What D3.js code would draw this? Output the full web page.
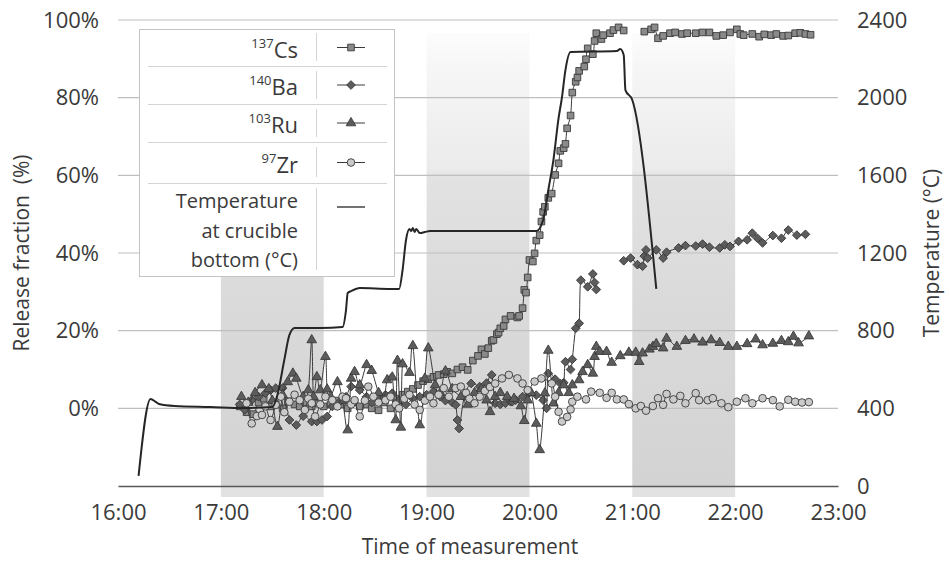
<!DOCTYPE html>
<html>
<head>
<meta charset="utf-8">
<script src="https://cdn.jsdelivr.net/npm/d3@7"></script>
<style>
  body { margin: 0; background: #fff; }
  text { font-family: "Open Sans", sans-serif; fill: #3a3a3a; }
</style>
</head>
<body>
<div id="chart"></div>
<script>
// values: [time, value]
const timeTicks = ["16:00","17:00","18:00","19:00","20:00","21:00","22:00","23:00"];
const leftTicks = [0, 20, 40, 60, 80, 100];
const rightTicks = [0, 400, 800, 1200, 1600, 2000, 2400];
const shadedHours = [["17:00","18:00"], ["19:00","20:00"], ["21:00","22:00"]];

const tempData = [["16:12",52],["16:19",448],["16:22",433],["16:24",422],["16:33",412],["16:54",407],
  ["17:13",402],["17:30",407],["17:33",469],["17:37",649],["17:40",778],["17:43",814],["17:58",814],
  ["18:11",819],["18:13",906],["18:14",994],["18:16",1004],["18:21",1020],["18:39",1015],["18:44",1015],
  ["18:46",1112],["18:48",1267],["18:50",1324],["18:51",1313],["18:52",1329],["18:53",1308],["18:54",1324],
  ["18:56",1303],["18:59",1308],["19:02",1313],["20:04",1313],["20:08",1370],["20:11",1524],["20:14",1679],
  ["20:17",1895],["20:19",2003],["20:21",2142],["20:24",2235],["20:51",2240],["20:53",2251],["20:55",2220],
  ["20:56",2039],["21:00",1988],["21:14",1015]];

const csData = [["17:11",0.5],["17:15",-1.0],["17:19",-1.5],["17:22",1.5],["17:25",2.5],["17:29",0.5],
  ["17:32",1.0],["17:36",0.0],["17:39",1.8],["17:43",1.0],["17:46",0.5],["17:50",1.5],["17:53",0.5],
  ["17:57",1.2],["18:00",0.5],["18:04",1.0],["18:07",2.0],["18:11",1.0],["18:14",0.0],["18:18",1.5],
  ["18:21",0.5],["18:25",1.0],["18:28",0.0],["18:32",-0.5],["18:35",1.5],["18:39",0.0],["18:42",2.5],
  ["18:46",3.5],["18:49",4.3],["18:52",5.0],["18:55",6.0],["18:58",7.0],["19:01",7.5],["19:04",8.1],
  ["19:07",8.6],["19:10",8.8],["19:12",9.4],["19:15",9.0],["19:18",10.0],["19:21",10.6],["19:24",9.9],
  ["19:27",12.3],["19:30",13.5],["19:32",15.2],["19:34",14.0],["19:36",15.5],["19:38",17.4],["19:39",17.6],
  ["19:41",19.1],["19:42",19.5],["19:43",20.6],["19:45",21.2],["19:46",22.9],["19:49",23.8],["19:53",23.4],
  ["19:54",23.8],["19:56",25.8],["19:57",30.5],["19:58",29.8],["19:59",33.7],["20:00",38.2],["20:02",37.8],
  ["20:03",39.9],["20:04",43.2],["20:06",44.6],["20:07",48.1],["20:08",50.6],["20:09",51.9],["20:11",54.2],
  ["20:13",55.3],["20:15",60.1],["20:17",63.1],["20:18",66.3],["20:20",67.0],["20:21",68.1],["20:22",72.1],
  ["20:24",75.4],["20:25",81.3],["20:27",84.1],["20:28",85.2],["20:29",86.9],["20:32",88.0],["20:33",89.9],
  ["20:34",92.7],["20:37",91.2],["20:38",94.6],["20:39",96.6],["20:42",95.1],["20:43",96.1],["20:47",96.6],
  ["20:49",97.4],["20:52",98.1],["20:55",97.3],["21:02",null],["21:07",97.0],["21:11",97.6],["21:13",98.1],
  ["21:15",95.3],["21:18",95.9],["21:22",96.6],["21:25",96.8],["21:29",96.4],["21:32",96.6],["21:37",96.6],
  ["21:41",96.8],["21:45",96.8],["21:49",95.9],["21:53",96.1],["21:57",96.8],["22:01",97.6],["22:03",96.4],
  ["22:05",96.1],["22:10",96.4],["22:14",95.7],["22:17",96.3],["22:21",96.1],["22:24",96.4],["22:28",95.9],
  ["22:31",96.0],["22:35",96.6],["22:38",96.7],["22:41",96.4],["22:44",96.2]];

const baData = [["17:11",1.0],["17:14",-0.4],["17:18",2.1],["17:22",3.0],["17:26",3.9],["17:29",4.7],
  ["17:32",5.2],["17:36",5.2],["17:40",-3.0],["17:44",-4.3],["17:48",-2.0],["17:53",-3.4],["17:56",-3.4],
  ["17:59",-3.0],["18:02",-2.1],["18:05",0.5],["18:09",1.5],["18:13",3.0],["18:16",5.6],["18:21",4.7],
  ["18:25",3.0],["18:28",1.5],["18:33",2.5],["18:36",3.5],["18:40",3.9],["18:44",2.0],["18:48",1.0],
  ["18:52",2.5],["18:56",3.0],["19:00",3.5],["19:04",4.3],["19:08",3.0],["19:11",2.0],["19:15",1.5],
  ["19:17",0.9],["19:18",-3.0],["19:19",-5.2],["19:22",3.0],["19:26",6.4],["19:31",5.6],["19:35",6.5],
  ["19:38",8.6],["19:40",1.3],["19:43",1.0],["19:46",1.3],["19:49",1.7],["19:50",1.7],["19:52",2.1],
  ["19:56",3.0],["20:00",4.0],["20:04",3.4],["20:08",2.1],["20:10",0.0],["20:11",9.0],["20:15",7.5],
  ["20:18",6.4],["20:20",6.6],["20:21",12.0],["20:24",10.0],["20:25",12.6],["20:27",20.6],["20:29",21.9],
  ["20:30",33.0],["20:34",31.3],["20:37",34.6],["20:38",32.4],["20:39",30.6],["20:45",null],["20:55",38.0],
  ["20:59",38.7],["21:03",37.0],["21:06",36.6],["21:07",39.2],["21:08",40.8],["21:09",38.7],["21:14",40.8],
  ["21:18",38.7],["21:20",40.2],["21:27",41.3],["21:31",41.9],["21:37",41.8],["21:41",42.3],["21:45",41.5],
  ["21:51",41.3],["21:54",42.1],["21:57",41.7],["22:02",43.0],["22:07",43.4],["22:10",45.1],["22:13",43.8],
  ["22:16",42.6],["22:22",44.5],["22:27",43.8],["22:31",45.9],["22:36",44.6],["22:41",44.8]];

const ruData = [["17:12",3.0],["17:16",1.5],["17:20",4.0],["17:24",6.0],["17:28",5.0],["17:30",2.0],
  ["17:33",-4.7],["17:36",3.5],["17:39",6.8],["17:42",9.0],["17:44",7.7],["17:48",3.0],["17:51",4.7],
  ["17:53",17.6],["17:54",3.0],["17:56",8.1],["17:58",4.7],["18:01",13.3],["18:02",4.9],["18:04",3.0],
  ["18:08",6.8],["18:11",2.0],["18:14",-5.6],["18:16",7.7],["18:18",9.4],["18:21",6.0],["18:25",11.2],
  ["18:28",9.7],["18:32",4.0],["18:35",2.0],["18:37",7.3],["18:40",8.0],["18:42",-3.0],["18:43",12.3],
  ["18:45",-4.9],["18:46",11.4],["18:50",9.2],["18:52",16.1],["18:56",-4.3],["18:59",7.7],["19:01",15.5],
  ["19:05",6.0],["19:08",4.0],["19:11",9.6],["19:15",5.0],["19:20",3.0],["19:24",1.0],["19:28",4.0],
  ["19:32",5.0],["19:35",2.1],["19:37",-0.9],["19:40",3.0],["19:43",4.0],["19:47",3.0],["19:51",2.5],
  ["19:55",0.6],["19:57",-3.2],["19:59",2.1],["20:01",4.0],["20:04",-3.9],["20:06",-10.7],["20:09",3.9],
  ["20:11",14.9],["20:14",1.3],["20:17",4.0],["20:20",6.0],["20:23",4.0],["20:25",6.0],["20:29",7.3],
  ["20:31",9.4],["20:34",11.2],["20:37",9.0],["20:38",13.3],["20:39",15.9],["20:41",14.6],["20:45",14.6],
  ["20:48",11.8],["20:53",13.5],["20:58",14.4],["21:02",14.4],["21:04",12.0],["21:06",14.2],["21:10",15.2],
  ["21:12",15.9],["21:14",16.6],["21:18",15.5],["21:20",18.0],["21:26",15.9],["21:31",17.4],["21:36",17.8],
  ["21:41",17.0],["21:46",17.6],["21:51",16.9],["21:56",15.9],["22:01",15.9],["22:07",16.6],["22:12",17.8],
  ["22:16",16.3],["22:22",16.7],["22:27",17.4],["22:31",17.1],["22:34",18.5],["22:37",16.8],["22:43",18.6]];

const zrData = [["17:15",1.3],["17:18",-3.9],["17:21",-2.0],["17:24",-1.7],["17:26",0.5],["17:29",-3.0],
  ["17:32",0.9],["17:35",3.0],["17:37",-1.0],["17:40",1.7],["17:43",3.5],["17:46",2.1],["17:49",-0.4],
  ["17:51",2.5],["17:53",1.3],["17:55",-2.1],["17:58",1.0],["18:01",3.0],["18:05",2.1],["18:08",0.5],
  ["18:11",3.0],["18:13",2.6],["18:16",1.0],["18:18",2.1],["18:21",-2.1],["18:24",2.0],["18:26",5.6],
  ["18:29",3.0],["18:32",1.5],["18:36",2.1],["18:39",3.0],["18:42",1.0],["18:44",0.0],["18:47",2.5],
  ["18:50",3.5],["18:53",1.0],["18:56",-0.4],["18:59",2.0],["19:02",3.0],["19:04",1.3],["19:07",3.5],
  ["19:10",5.2],["19:13",3.0],["19:17",5.2],["19:20",5.6],["19:23",4.0],["19:25",2.5],["19:28",1.3],
  ["19:31",3.0],["19:34",4.5],["19:37",5.5],["19:40",6.4],["19:44",7.7],["19:48",8.6],["19:53",7.7],
  ["19:56",6.4],["19:59",4.7],["20:03",6.9],["20:07",7.7],["20:13",6.4],["20:15",3.0],["20:17",-0.9],
  ["20:19",-3.4],["20:22",-2.2],["20:24",-0.3],["20:25",1.7],["20:28",3.0],["20:33",2.3],["20:36",4.3],
  ["20:41",4.0],["20:45",2.7],["20:48",4.0],["20:51",2.3],["20:55",2.3],["20:58",1.1],["21:02",0.0],
  ["21:05",0.6],["21:08",-0.6],["21:12",0.6],["21:15",2.6],["21:18",0.9],["21:20",3.7],["21:24",2.3],
  ["21:28",3.2],["21:31",1.3],["21:37",3.9],["21:39",2.1],["21:44",2.1],["21:47",2.6],["21:52",1.3],
  ["21:56",0.3],["22:01",1.7],["22:06",2.6],["22:10",1.3],["22:16",2.6],["22:22",2.1],["22:26",0.5],
  ["22:31",2.2],["22:35",1.7],["22:39",1.5],["22:43",1.6]];

const W = 950, H = 563;
const plot = {left: 118, right: 838, top: 20, bottom: 486};
const parseTime = d3.timeParse("%H:%M");

const svg = d3.select("#chart").append("svg")
  .attr("width", W).attr("height", H);

const x = d3.scaleTime()
  .domain([parseTime(timeTicks[0]), parseTime(timeTicks[timeTicks.length - 1])])
  .range([plot.left, plot.right]);
const yL = d3.scaleLinear().domain([-20, 100]).range([plot.bottom, plot.top]);
const yR = d3.scaleLinear().domain([0, 2400]).range([plot.bottom, plot.top]);

// shaded band gradient
const defs = svg.append("defs");
const grad = defs.append("linearGradient").attr("id", "band")
  .attr("x1", 0).attr("y1", 0).attr("x2", 0).attr("y2", 1);
[[0, "#fcfcfc"], [0.08, "#f6f6f6"], [0.3, "#ebebeb"], [0.32, "#e2e2e2"], [0.6, "#dadada"], [1, "#d3d3d3"]]
  .forEach(([o, c]) => grad.append("stop").attr("offset", o).attr("stop-color", c));

svg.append("g").selectAll("rect")
  .data(shadedHours)
  .join("rect")
    .attr("x", d => x(parseTime(d[0])))
    .attr("width", d => x(parseTime(d[1])) - x(parseTime(d[0])))
    .attr("y", 33)
    .attr("height", plot.bottom - 33)
    .attr("fill", "url(#band)");
svg.append("g").selectAll("rect")
  .data(shadedHours)
  .join("rect")
    .attr("x", d => x(parseTime(d[0])))
    .attr("width", d => x(parseTime(d[1])) - x(parseTime(d[0])))
    .attr("y", plot.bottom)
    .attr("height", 11)
    .attr("fill", "#e2e2e2");

// gridlines
svg.append("g").selectAll("line")
  .data(rightTicks.filter(d => d > 0))
  .join("line")
    .attr("x1", plot.left).attr("x2", plot.right)
    .attr("y1", d => yR(d)).attr("y2", d => yR(d))
    .attr("stroke", "#bfbfbf").attr("stroke-width", 1.2);

// axes
const xAxis = svg.append("g")
  .attr("transform", `translate(0,${plot.bottom})`)
  .call(d3.axisBottom(x).tickValues(timeTicks.map(parseTime))
    .tickFormat(d3.timeFormat("%H:%M")).tickSize(0).tickSizeOuter(0).tickPadding(18));
xAxis.select(".domain").attr("stroke", "#595959").attr("stroke-width", 1.6);

const yAxisL = svg.append("g")
  .attr("transform", `translate(${plot.left},0)`)
  .call(d3.axisLeft(yL).tickValues(leftTicks).tickFormat(d => d + "%").tickSize(0).tickPadding(19));
yAxisL.select(".domain").remove();

const yAxisR = svg.append("g")
  .attr("transform", `translate(${plot.right},0)`)
  .call(d3.axisRight(yR).tickValues(rightTicks).tickFormat(d3.format("d")).tickSize(0).tickPadding(19));
yAxisR.select(".domain").remove();

svg.selectAll(".tick text")
  .attr("font-family", "Open Sans, sans-serif")
  .attr("font-size", 22)
  .attr("fill", "#3a3a3a");

// axis titles
svg.append("text")
  .attr("x", 470).attr("y", 554)
  .attr("text-anchor", "middle").attr("font-size", 21)
  .text("Time of measurement");
svg.append("text")
  .attr("transform", `translate(29,${(plot.top + plot.bottom) / 2}) rotate(-90)`)
  .attr("text-anchor", "middle").attr("font-size", 21)
  .style("white-space", "pre")
  .text("Release fraction  (%)");
svg.append("text")
  .attr("transform", `translate(939,${(plot.top + plot.bottom) / 2}) rotate(-90)`)
  .attr("text-anchor", "middle").attr("font-size", 21)
  .text("Temperature (°C)");

// series
const rows = d => d.map(([t, v]) => ({t: parseTime(t), v}));
const series = [
  {key: "cs", data: rows(csData), shape: d3.symbolSquare, size: 44, rot: 0, fill: "#8a8a8a"},
  {key: "ba", data: rows(baData), shape: d3.symbolSquare, size: 38, rot: 45, fill: "#5c5c5c"},
  {key: "ru", data: rows(ruData), shape: d3.symbolTriangle, size: 40, rot: 0, fill: "#5c5c5c"},
  {key: "zr", data: rows(zrData), shape: d3.symbolCircle, size: 46, rot: 0, fill: "#cacaca"}
];

const lineL = d3.line()
  .defined(d => d.v != null)
  .x(d => x(d.t)).y(d => yL(d.v))
  .curve(d3.curveCatmullRom.alpha(0));

series.forEach(s => {
  const g = svg.append("g").attr("class", s.key);
  g.append("path")
    .datum(s.data)
    .attr("d", lineL)
    .attr("fill", "none").attr("stroke", "#3a3a3a").attr("stroke-width", 1);
  g.selectAll("path.m")
    .data(s.data.filter(d => d.v != null))
    .join("path")
      .attr("class", "m")
      .attr("d", d3.symbol(s.shape, s.size))
      .attr("transform", d => `translate(${x(d.t)},${yL(d.v)}) rotate(${s.rot})`)
      .attr("fill", s.fill).attr("stroke", "#3a3a3a").attr("stroke-width", 0.9);
});

// temperature on the right axis
svg.append("path")
  .datum(rows(tempData))
  .attr("d", d3.line().x(d => x(d.t)).y(d => yR(d.v)).curve(d3.curveMonotoneX))
  .attr("fill", "none").attr("stroke", "#262626").attr("stroke-width", 2);

// legend
const lg = svg.append("g");
lg.append("rect")
  .attr("x", 139.5).attr("y", 29.5).attr("width", 255).attr("height", 247)
  .attr("fill", "#fff").attr("stroke", "#c3c3c3");

const legendRows = [
  {sup: "137", name: "Cs", s: series[0], top: 29, bottom: 66},
  {sup: "140", name: "Ba", s: series[1], top: 66, bottom: 104},
  {sup: "103", name: "Ru", s: series[2], top: 104, bottom: 142},
  {sup: "97", name: "Zr", s: series[3], top: 142, bottom: 183}
];
const sepY = [66, 104, 142, 183];
lg.selectAll("line.h").data(sepY).join("line")
  .attr("x1", 148).attr("x2", 387)
  .attr("y1", d => d + 0.5).attr("y2", d => d + 0.5)
  .attr("stroke", "#d4d4d4");
const cellY = [[33, 61], [71, 99], [109, 137], [147, 177], [188, 270]];
lg.selectAll("line.v").data(cellY).join("line")
  .attr("x1", 316.5).attr("x2", 316.5)
  .attr("y1", d => d[0]).attr("y2", d => d[1])
  .attr("stroke", "#d4d4d4");

legendRows.forEach(r => {
  const cy = (r.top + r.bottom) / 2;
  const t = lg.append("text").attr("x", 298).attr("y", cy + 10)
    .attr("text-anchor", "end").attr("font-size", 22);
  t.append("tspan").attr("font-size", 13).attr("dy", -10).text(r.sup);
  t.append("tspan").attr("dy", 10).text(r.name);
  lg.append("line").attr("x1", 337).attr("x2", 365).attr("y1", cy).attr("y2", cy)
    .attr("stroke", "#3a3a3a").attr("stroke-width", 1);
  lg.append("path")
    .attr("d", d3.symbol(r.s.shape, r.s.size))
    .attr("transform", `translate(351,${cy}) rotate(${r.s.rot})`)
    .attr("fill", r.s.fill).attr("stroke", "#3a3a3a").attr("stroke-width", 0.9);
});

["Temperature", "at crucible", "bottom (°C)"].forEach((s, i) => {
  lg.append("text").attr("x", 298).attr("y", 208 + i * 29.5)
    .attr("text-anchor", "end").attr("font-size", 20).text(s);
});
lg.append("line").attr("x1", 337).attr("x2", 365).attr("y1", 207).attr("y2", 207)
  .attr("stroke", "#262626").attr("stroke-width", 1.3);
</script>
</body>
</html>
